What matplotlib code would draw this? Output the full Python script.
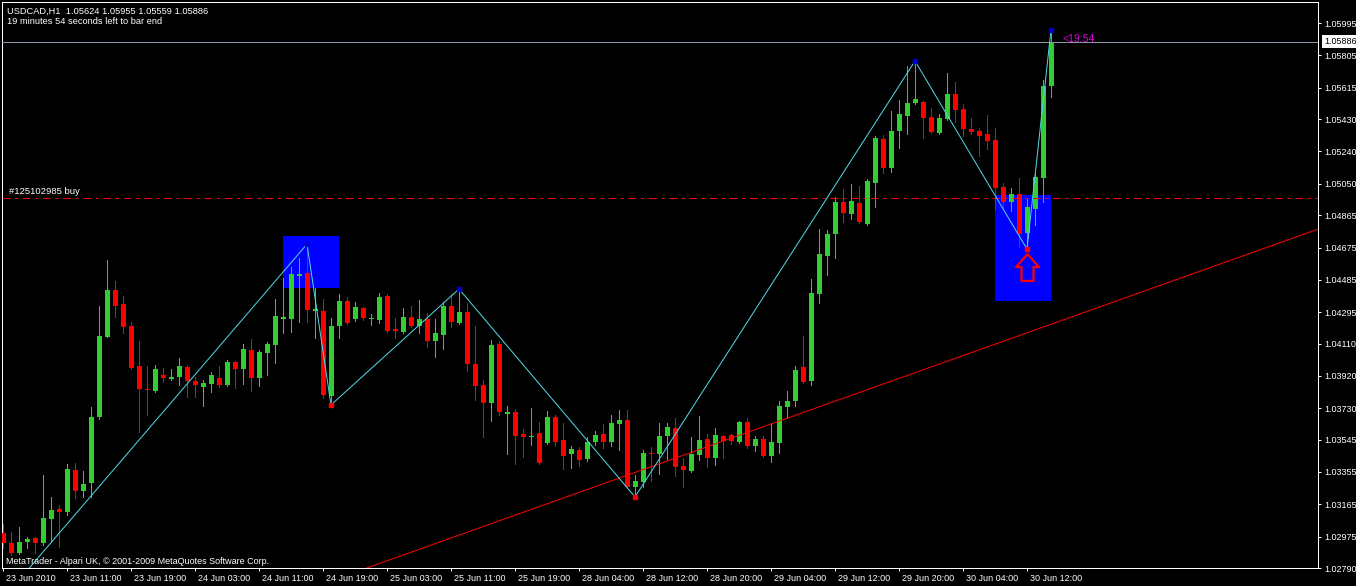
import numpy as np
import matplotlib
matplotlib.use("Agg")
import matplotlib.pyplot as plt
from matplotlib.patches import Rectangle
from matplotlib.path import Path
import matplotlib.transforms as mtransforms

plt.rcParams['font.family'] = ['Liberation Sans', 'DejaVu Sans']

# ---------------- data (USDCAD, H1) ----------------
opens = [1.02996, 1.02937, 1.02878, 1.02943, 1.02967, 1.02937, 1.03078, 1.03137, 1.03119, 1.03366,
         1.03243, 1.03290, 1.03678, 1.04149, 1.04425, 1.04342, 1.04214, 1.03978, 1.03843, 1.03831,
         1.03925, 1.03901, 1.03913, 1.03972, 1.03890, 1.03855, 1.03872, 1.03907, 1.03866, 1.04001,
         1.03960, 1.04072, 1.03907, 1.04054, 1.04102, 1.04254, 1.04254, 1.04508, 1.04525, 1.04301,
         1.04301, 1.03802, 1.04214, 1.04360, 1.04254, 1.04319, 1.04254, 1.04249, 1.04390, 1.04196,
         1.04178, 1.04266, 1.04214, 1.04254, 1.04125, 1.04161, 1.04331, 1.04231, 1.04295, 1.03990,
         1.03866, 1.03760, 1.04107, 1.03695, 1.03707, 1.03578, 1.03561, 1.03584, 1.03525, 1.03678,
         1.03543, 1.03460, 1.03484, 1.03431, 1.03531, 1.03578, 1.03531, 1.03637, 1.03660, 1.03266,
         1.03296, 1.03466, 1.03460, 1.03566, 1.03613, 1.03390, 1.03360, 1.03455, 1.03549, 1.03437,
         1.03566, 1.03572, 1.03531, 1.03649, 1.03508, 1.03549, 1.03449, 1.03525, 1.03737, 1.03772,
         1.03972, 1.03890, 1.04401, 1.04625, 1.04754, 1.04942, 1.04872, 1.04936, 1.04813, 1.05054,
         1.05313, 1.05142, 1.05360, 1.05448, 1.05525, 1.05531, 1.05442, 1.05348, 1.05431, 1.05577,
         1.05489, 1.05372, 1.05360, 1.05342, 1.05307, 1.05031, 1.04942, 1.04989, 1.04760, 1.04901,
         1.05084, 1.05624]
highs = [1.03048, 1.03002, 1.03031, 1.02972, 1.02972, 1.03337, 1.03208, 1.03160, 1.03401, 1.03407,
         1.03360, 1.03737, 1.04331, 1.04601, 1.04478, 1.04390, 1.04237, 1.04125, 1.03978, 1.03984,
         1.03966, 1.03960, 1.04025, 1.03984, 1.03913, 1.03896, 1.03942, 1.03978, 1.04013, 1.04007,
         1.04107, 1.04137, 1.04072, 1.04119, 1.04372, 1.04496, 1.04560, 1.04613, 1.04695, 1.04437,
         1.04372, 1.04260, 1.04401, 1.04384, 1.04354, 1.04325, 1.04284, 1.04407, 1.04401, 1.04260,
         1.04319, 1.04331, 1.04366, 1.04290, 1.04254, 1.04354, 1.04401, 1.04431, 1.04348, 1.04214,
         1.03896, 1.04131, 1.04125, 1.03743, 1.03725, 1.03607, 1.03731, 1.03649, 1.03713, 1.03690,
         1.03643, 1.03508, 1.03502, 1.03561, 1.03596, 1.03637, 1.03690, 1.03719, 1.03719, 1.03337,
         1.03484, 1.03502, 1.03643, 1.03643, 1.03672, 1.03437, 1.03561, 1.03684, 1.03578, 1.03613,
         1.03572, 1.03578, 1.03654, 1.03672, 1.03566, 1.03566, 1.03643, 1.03772, 1.03831, 1.03978,
         1.04155, 1.04490, 1.04784, 1.04778, 1.04972, 1.05019, 1.05048, 1.05037, 1.05078, 1.05331,
         1.05337, 1.05478, 1.05542, 1.05742, 1.05772, 1.05537, 1.05495, 1.05460, 1.05701, 1.05648,
         1.05519, 1.05437, 1.05378, 1.05454, 1.05378, 1.05054, 1.05025, 1.05084, 1.04960, 1.05107,
         1.05660, 1.05955]
lows = [1.02908, 1.02867, 1.02872, 1.02908, 1.02878, 1.02925, 1.02943, 1.02914, 1.03102, 1.03202,
        1.03208, 1.03208, 1.03666, 1.04149, 1.04266, 1.04172, 1.03960, 1.03590, 1.03690, 1.03825,
        1.03884, 1.03896, 1.03866, 1.03796, 1.03796, 1.03743, 1.03825, 1.03855, 1.03861, 1.03849,
        1.03872, 1.03831, 1.03861, 1.03925, 1.03995, 1.04172, 1.04178, 1.04237, 1.04237, 1.04143,
        1.03790, 1.03749, 1.04143, 1.04225, 1.04243, 1.04249, 1.04220, 1.04231, 1.04178, 1.04143,
        1.04172, 1.04208, 1.04172, 1.04090, 1.04031, 1.04078, 1.04208, 1.04225, 1.03948, 1.03778,
        1.03561, 1.03654, 1.03690, 1.03460, 1.03401, 1.03443, 1.03514, 1.03401, 1.03519, 1.03508,
        1.03372, 1.03378, 1.03390, 1.03419, 1.03514, 1.03496, 1.03508, 1.03484, 1.03260, 1.03208,
        1.03266, 1.03302, 1.03342, 1.03431, 1.03331, 1.03266, 1.03354, 1.03425, 1.03384, 1.03396,
        1.03437, 1.03519, 1.03525, 1.03496, 1.03478, 1.03443, 1.03413, 1.03466, 1.03672, 1.03743,
        1.03878, 1.03866, 1.04348, 1.04513, 1.04613, 1.04825, 1.04843, 1.04819, 1.04807, 1.04913,
        1.05113, 1.05119, 1.05260, 1.05342, 1.05519, 1.05319, 1.05348, 1.05342, 1.05425, 1.05413,
        1.05331, 1.05342, 1.05213, 1.05254, 1.04901, 1.04907, 1.04889, 1.04678, 1.04666, 1.04807,
        1.04942, 1.05559]
closes = [1.02937, 1.02878, 1.02943, 1.02961, 1.02937, 1.03084, 1.03131, 1.03119, 1.03372, 1.03243,
          1.03284, 1.03678, 1.04155, 1.04425, 1.04331, 1.04208, 1.03966, 1.03843, 1.03837, 1.03960,
          1.03907, 1.03913, 1.03978, 1.03890, 1.03866, 1.03878, 1.03925, 1.03866, 1.04001, 1.03960,
          1.04078, 1.03907, 1.04060, 1.04107, 1.04272, 1.04266, 1.04519, 1.04519, 1.04307, 1.04313,
          1.03808, 1.04214, 1.04360, 1.04231, 1.04325, 1.04260, 1.04260, 1.04384, 1.04184, 1.04184,
          1.04266, 1.04214, 1.04254, 1.04125, 1.04172, 1.04331, 1.04237, 1.04295, 1.03990, 1.03861,
          1.03760, 1.04102, 1.03707, 1.03707, 1.03566, 1.03561, 1.03566, 1.03407, 1.03678, 1.03531,
          1.03449, 1.03490, 1.03425, 1.03531, 1.03572, 1.03531, 1.03643, 1.03660, 1.03266, 1.03302,
          1.03466, 1.03460, 1.03566, 1.03619, 1.03384, 1.03366, 1.03460, 1.03543, 1.03437, 1.03572,
          1.03537, 1.03537, 1.03649, 1.03508, 1.03549, 1.03449, 1.03531, 1.03743, 1.03772, 1.03954,
          1.03884, 1.04407, 1.04636, 1.04754, 1.04942, 1.04878, 1.04948, 1.04825, 1.05066, 1.05319,
          1.05142, 1.05360, 1.05460, 1.05525, 1.05548, 1.05437, 1.05354, 1.05437, 1.05577, 1.05484,
          1.05372, 1.05354, 1.05331, 1.05301, 1.05025, 1.04942, 1.04989, 1.04754, 1.04913, 1.05089,
          1.05625, 1.05886]

x_tick_bars = [0, 8, 16, 24, 32, 40, 48, 56, 64, 72, 80, 88, 96, 104, 112, 120, 128]
x_tick_labels = ["23 Jun 2010", "23 Jun 11:00", "23 Jun 19:00", "24 Jun 03:00", "24 Jun 11:00",
                 "24 Jun 19:00", "25 Jun 03:00", "25 Jun 11:00", "25 Jun 19:00", "28 Jun 04:00",
                 "28 Jun 12:00", "28 Jun 20:00", "29 Jun 04:00", "29 Jun 12:00", "29 Jun 20:00",
                 "30 Jun 04:00", "30 Jun 12:00"]
y_ticks = [1.05995, 1.05805, 1.05615, 1.05430, 1.05240, 1.05050, 1.04865, 1.04675, 1.04485,
           1.04295, 1.04110, 1.03920, 1.03730, 1.03545, 1.03355, 1.03165, 1.02975, 1.02790]

# zigzag pivots (bar index, type); first point lies before the visible bars
zz_start_bar, zz_start_price = -2, 1.02500
zz_bars = [38, 41, 57, 79, 114, 128, 131]
zz_types = ['H', 'L', 'H', 'L', 'H', 'L', 'H']

# blue rectangles: (bar1, bar2, price_low, price_high)
rect_bar1 = [35, 124]
rect_bar2 = [42, 131]
rect_low = [1.04439, 1.04363]
rect_high = [1.04740, 1.04981]

trend_bars = [75, 100]
trend_prices = [1.03285, 1.03704]

order_price = 1.04966
order_label = "#125102985 buy"
bid_price = 1.05886
arrow_bar, arrow_price = 128, 1.04563
timer_text = "<19:54"

header1 = "USDCAD,H1  1.05624 1.05955 1.05559 1.05886"
header2 = "19 minutes 54 seconds left to bar end"
credit = "MetaTrader - Alpari UK, \u00a9 2001-2009 MetaQuotes Software Corp."

# ---------------- figure ----------------
W, H = 1356, 586
fig = plt.figure(figsize=(W / 100, H / 100), dpi=100, facecolor='black')
ax = fig.add_axes([2 / W, 1 - 568 / H, 1316 / W, 566 / H])
ax.set_facecolor('black')
ax.set_xlim(-0.125, 164.375)
ax.set_ylim(1.02790, 1.06119)

PX = 0.72  # one pixel in points
GREEN = '#32CD32'
RED = '#FF0000'

o = np.array(opens); h = np.array(highs); l = np.array(lows); c = np.array(closes)
idx = np.arange(len(o))
up = c >= o
cols = np.where(up, GREEN, RED)

# rectangles (background)
for b1, b2, lo, hi in zip(rect_bar1, rect_bar2, rect_low, rect_high):
    ax.add_patch(Rectangle((b1, lo), b2 - b1, hi - lo, facecolor='#0000FF',
                           edgecolor='none', zorder=1))

# wicks & bodies
ax.vlines(idx, l, h, colors=cols, linewidth=PX, zorder=3, antialiased=False)
body_lo = np.minimum(o, c)
body_h = np.maximum(np.abs(c - o), 0.00006)
ax.bar(idx, body_h, bottom=body_lo, width=0.625, color=cols, linewidth=0, zorder=3)

# horizontal lines
ax.axhline(order_price, color=RED, linewidth=PX, dashes=(7.7, 4.8, 2.9, 4.8), zorder=4)
ax.axhline(bid_price, color='#8898A8', linewidth=PX, zorder=4)

# trend line
ax.axline((trend_bars[0], trend_prices[0]), (trend_bars[1], trend_prices[1]),
          color=RED, linewidth=PX, zorder=4)

# zigzag
zz_prices = [h[b] if t == 'H' else l[b] for b, t in zip(zz_bars, zz_types)]
ax.plot([zz_start_bar] + zz_bars, [zz_start_price] + zz_prices, color='#50D8E8',
        linewidth=PX, zorder=5)
for b, t, p in zip(zz_bars, zz_types, zz_prices):
    ax.plot([b], [p], marker='s', markersize=2.2, color='#0000CC' if t == 'H' else RED,
            linestyle='none', zorder=6)

# arrow marker (hollow up arrow)
arrow_verts = [(0, 13.5), (11.5, 0.5), (6, 0.5), (6, -13.5), (-6, -13.5), (-6, 0.5),
               (-11.5, 0.5), (0, 13.5)]
arrow_path = Path(arrow_verts, [Path.MOVETO] + [Path.LINETO] * 6 + [Path.CLOSEPOLY])
ax.plot([arrow_bar], [arrow_price], marker=arrow_path, markersize=19.4,
        markerfacecolor='none', markeredgecolor=RED, markeredgewidth=1.6,
        linestyle='none', zorder=6)

# timer text
ax.text(len(o) + 0.4, bid_price, timer_text, color='#E000E0', fontsize=7.5,
        va='baseline', ha='left', zorder=7)

# order label
ax.text(0.75, order_price, order_label, color='white', fontsize=6.8, va='bottom',
        ha='left', zorder=7,
        transform=ax.transData + mtransforms.ScaledTranslation(0, 2.5 / 100, fig.dpi_scale_trans))

# axes styling
for sp in ax.spines.values():
    sp.set_color('white')
    sp.set_linewidth(PX)

ax.yaxis.tick_right()
ax.set_yticks(y_ticks)
ax.set_yticklabels([f"{v:.5f}" for v in y_ticks])
ax.tick_params(axis='y', colors='white', length=3 * PX, width=PX, labelsize=6.5, pad=2.2,
               direction='out')
ax.set_xticks(x_tick_bars)
ax.set_xticklabels(x_tick_labels)
ax.tick_params(axis='x', colors='white', length=3 * PX, width=PX, labelsize=6.5, pad=2.0,
               direction='out')
offset = mtransforms.ScaledTranslation(3 / 100, 0, fig.dpi_scale_trans)
for lab in ax.get_xticklabels():
    lab.set_horizontalalignment('left')
    lab.set_transform(lab.get_transform() + offset)

# bid price label box
bid_tr = mtransforms.blended_transform_factory(ax.transAxes, ax.transData) + \
    mtransforms.ScaledTranslation(6 / 100, 0, fig.dpi_scale_trans)
ax.text(1.0, bid_price, f"{bid_price:.5f}", transform=bid_tr, color='black', fontsize=6.5,
        va='center', ha='left', clip_on=False, zorder=10,
        bbox=dict(boxstyle='square,pad=0.25', facecolor='white', edgecolor='none'))

# header and credit texts (figure pixel positions)
def fpos(x, y):
    return x / W, 1 - y / H

fig.text(*fpos(7, 14), header1, color='white', fontsize=6.7, va='baseline', ha='left')
fig.text(*fpos(7, 24), header2, color='white', fontsize=6.7, va='baseline', ha='left')
fig.text(*fpos(6, 564), credit, color='white', fontsize=6.5, va='baseline', ha='left')

fig.savefig('out.png', dpi=100, facecolor='black')
